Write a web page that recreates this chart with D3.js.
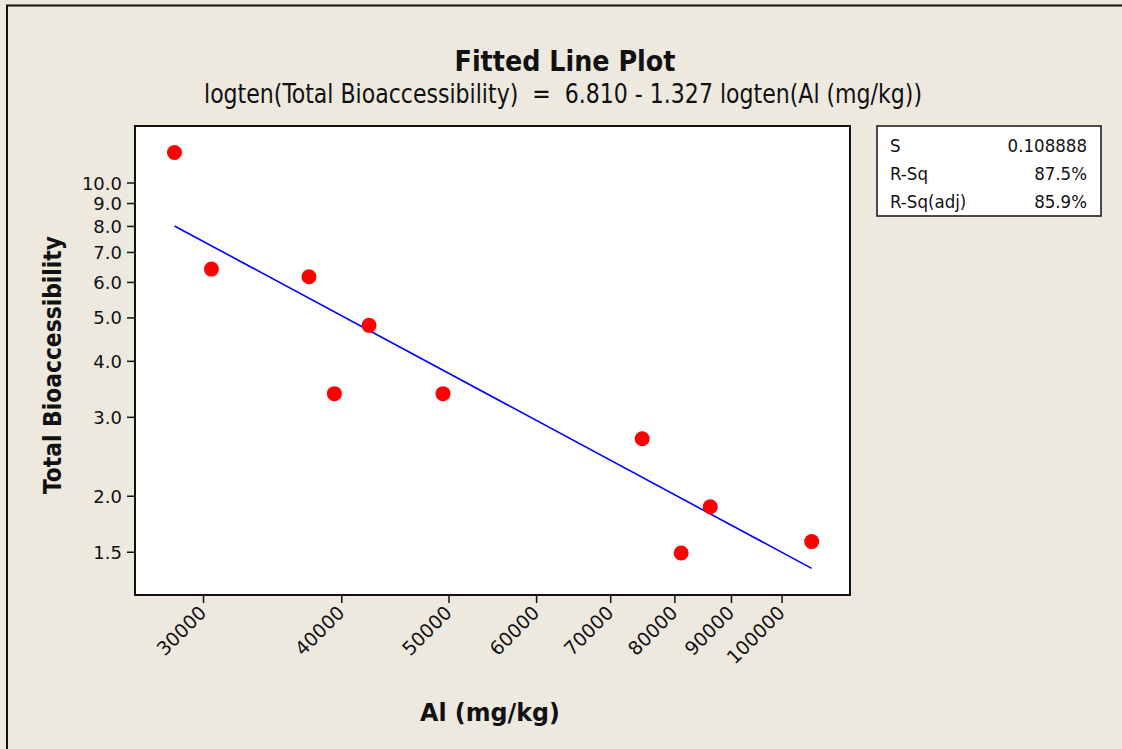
<!DOCTYPE html>
<html>
<head>
<meta charset="utf-8">
<script src="https://cdn.jsdelivr.net/npm/d3@7"></script>
<style>
  html, body { margin: 0; padding: 0; background: #EDE9DF; }
  svg { display: block; }
  text { font-family: "DejaVu Sans Condensed", "DejaVu Sans", Verdana, sans-serif; fill: #111; white-space: pre; }
</style>
</head>
<body>
<svg id="chart" width="1122" height="749"></svg>
<script>
// Aluminium content (mg/kg) and total bioaccessibility for each sample
const alContent = [28270, 30530, 37400, 42380, 39430, 49430, 74820, 86200, 81140, 106460];
const bioaccessibility = [11.67, 6.41, 6.16, 4.80, 3.38, 3.38, 2.68, 1.89, 1.49, 1.58];

// Regression: logten(Total Bioaccessibility) = 6.810 - 1.327 logten(Al (mg/kg))
const fitIntercept = 6.810;
const fitSlope = -1.327;

// Fit summary table
const statLabels = ["S", "R-Sq", "R-Sq(adj)"];
const statValues = ["0.108888", "87.5%", "85.9%"];

// Axis ticks
const xTicks = [30000, 40000, 50000, 60000, 70000, 80000, 90000, 100000];
const yTicks = [1.5, 2.0, 3.0, 4.0, 5.0, 6.0, 7.0, 8.0, 9.0, 10.0];

const svg = d3.select("#chart");
const W = 1122, H = 749;
const plot = { left: 135, right: 850, top: 126, bottom: 595 };
const tickFont = '"DejaVu Sans", Verdana, sans-serif';

svg.append("rect").attr("width", W).attr("height", H).attr("fill", "#EDE9DF");
// outer window edge
svg.append("line").attr("x1", 7).attr("x2", 7).attr("y1", 5).attr("y2", H)
  .attr("stroke", "#111").attr("stroke-width", 2);
svg.append("line").attr("x1", 6).attr("x2", W).attr("y1", 5.5).attr("y2", 5.5)
  .attr("stroke", "#111").attr("stroke-width", 2);

const x = d3.scaleLog().domain([26040, 115300]).range([plot.left, plot.right]);
const y = d3.scaleLog().domain([1.201, 13.37]).range([plot.bottom, plot.top]);

// plot area
svg.append("rect")
  .attr("x", plot.left).attr("y", plot.top)
  .attr("width", plot.right - plot.left).attr("height", plot.bottom - plot.top)
  .attr("fill", "#fff");

// Titles
svg.append("text").attr("x", 565).attr("y", 71).attr("text-anchor", "middle")
  .attr("font-size", 28).attr("font-weight", "bold")
  .attr("textLength", 221).attr("lengthAdjust", "spacingAndGlyphs")
  .text("Fitted Line Plot");
svg.append("text").attr("x", 563).attr("y", 103).attr("text-anchor", "middle")
  .attr("font-size", 26).attr("xml:space", "preserve")
  .attr("textLength", 718).attr("lengthAdjust", "spacingAndGlyphs")
  .text("logten(Total Bioaccessibility)  =  6.810 - 1.327 logten(Al (mg/kg))");

// Y axis
const yAxis = d3.axisLeft(y).tickValues(yTicks).tickFormat(d3.format(".1f"))
  .tickSize(8).tickPadding(5);
const gy = svg.append("g").attr("transform", `translate(${plot.left},0)`).call(yAxis);
gy.select(".domain").remove();
gy.selectAll(".tick line").attr("stroke", "#111").attr("stroke-width", 1.5);
gy.selectAll(".tick text").attr("font-size", 18).attr("fill", "#111")
  .style("font-family", tickFont)
  .attr("dy", "0.36em");

// X axis
const xAxis = d3.axisBottom(x).tickValues(xTicks).tickFormat(d3.format("d"))
  .tickSize(8).tickPadding(4);
const gx = svg.append("g").attr("transform", `translate(0,${plot.bottom})`).call(xAxis);
gx.select(".domain").remove();
gx.selectAll(".tick line").attr("stroke", "#111").attr("stroke-width", 1.5);
gx.selectAll(".tick text")
  .attr("font-size", 19).attr("fill", "#111")
  .style("font-family", tickFont)
  .attr("text-anchor", "end")
  .attr("x", 0).attr("y", 0).attr("dy", 0)
  .attr("transform", "translate(4,19) rotate(-45)");

// Axis titles
svg.append("text")
  .attr("transform", "translate(61,365) rotate(-90)")
  .attr("text-anchor", "middle").attr("font-size", 24).attr("font-weight", "bold")
  .attr("textLength", 258).attr("lengthAdjust", "spacingAndGlyphs")
  .text("Total Bioaccessibility");
svg.append("text").attr("x", 490).attr("y", 721).attr("text-anchor", "middle")
  .attr("font-size", 25).attr("font-weight", "bold")
  .attr("textLength", 140).attr("lengthAdjust", "spacingAndGlyphs")
  .text("Al (mg/kg)");

// Fitted regression line across the observed Al range
const fitX = d3.extent(alContent);
const fitPts = fitX.map(v => [v, Math.pow(10, fitIntercept + fitSlope * Math.log10(v))]);
svg.append("path")
  .datum(fitPts)
  .attr("d", d3.line().x(d => x(d[0])).y(d => y(d[1])))
  .attr("fill", "none").attr("stroke", "#0000FF").attr("stroke-width", 1.6);

// Observations
svg.append("g").selectAll("circle")
  .data(alContent.map((v, i) => [v, bioaccessibility[i]]))
  .join("circle")
  .attr("cx", d => x(d[0])).attr("cy", d => y(d[1]))
  .attr("r", 7.5).attr("fill", "#FF0000");

// plot frame
svg.append("rect")
  .attr("x", plot.left).attr("y", plot.top)
  .attr("width", plot.right - plot.left).attr("height", plot.bottom - plot.top)
  .attr("fill", "none").attr("stroke", "#111").attr("stroke-width", 2);

// Fit summary box
const box = { x: 877, y: 126, w: 224, h: 90 };
svg.append("rect").attr("x", box.x).attr("y", box.y).attr("width", box.w).attr("height", box.h)
  .attr("fill", "#fff").attr("stroke", "#111").attr("stroke-width", 1.5);
const rowY = [152, 180, 208];
statLabels.forEach((lab, i) => {
  svg.append("text").attr("x", 890).attr("y", rowY[i]).attr("font-size", 18.5).text(lab);
  svg.append("text").attr("x", 1087).attr("y", rowY[i]).attr("font-size", 18.5)
    .attr("text-anchor", "end").text(statValues[i]);
});
</script>
</body>
</html>
